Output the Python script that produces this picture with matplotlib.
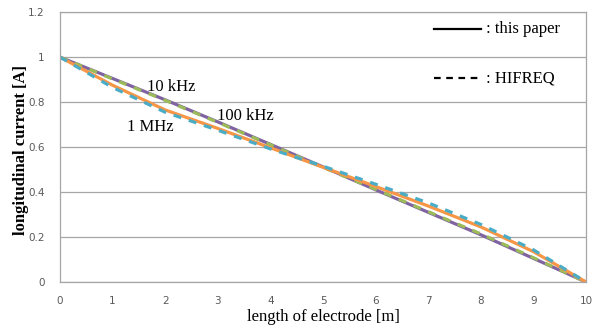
import matplotlib
matplotlib.use("Agg")
import matplotlib.pyplot as plt

x = [0, 1, 2, 3, 4, 5, 6, 7, 8, 9, 10]
# upper curve (10 kHz / 100 kHz)
i_10k_paper = [1.0, 0.905, 0.81, 0.712, 0.612, 0.512, 0.41, 0.31, 0.21, 0.105, 0.0]
i_10k_hifreq = [1.0, 0.903, 0.808, 0.71, 0.61, 0.51, 0.412, 0.313, 0.214, 0.108, 0.0]
# lower curve (1 MHz)
i_1m_paper = [1.0, 0.875, 0.765, 0.683, 0.597, 0.51, 0.425, 0.338, 0.245, 0.135, 0.0]
i_1m_hifreq = [1.0, 0.865, 0.755, 0.675, 0.592, 0.515, 0.435, 0.352, 0.256, 0.143, 0.0]

xticks = list(range(0, 11))
yticks = [0, 0.2, 0.4, 0.6, 0.8, 1.0, 1.2]
ytick_labels = ["0", "0.2", "0.4", "0.6", "0.8", "1", "1.2"]

serif = "Liberation Serif"
fig = plt.figure(figsize=(6.0, 3.28), dpi=100)
ax = fig.add_axes([0.1, 0.14, 0.877, 0.823])

ax.plot(x, i_10k_paper, color="#8064A2", lw=2.3, solid_capstyle="round")
ax.plot(x, i_10k_hifreq, color="#9BBB59", lw=2.3, ls=(0, (2.5, 2.5)))
ax.plot(x, i_1m_paper, color="#F79646", lw=2.3)
ax.plot(x, i_1m_hifreq, color="#4BACC6", lw=2.3, ls=(0, (2.5, 2.5)))

ax.set_xlim(0, 10)
ax.set_ylim(0, 1.2)
ax.set_xticks(xticks)
ax.set_yticks(yticks)
ax.set_yticklabels(ytick_labels)
ax.tick_params(axis="both", length=0, labelsize=7.5, labelcolor="#595959")
ax.tick_params(axis="x", pad=10)
ax.tick_params(axis="y", pad=11)
ax.grid(axis="y", color="#A6A6A6", lw=0.9)
ax.set_axisbelow(True)
for s in ax.spines.values():
    s.set_color("#A6A6A6")
    s.set_linewidth(0.9)

ax.set_xlabel("length of electrode [m]", family=serif, fontsize=12, labelpad=2)
ax.set_ylabel("longitudinal current [A]", family=serif, fontsize=12,
              fontweight="bold")
ax.yaxis.set_label_coords(-0.058, 0.49)

ax.text(2.11, 0.867, "10 kHz", family=serif, fontsize=12, ha="center", va="center")
ax.text(3.52, 0.738, "100 kHz", family=serif, fontsize=12, ha="center", va="center")
ax.text(1.71, 0.689, "1 MHz", family=serif, fontsize=12, ha="center", va="center")

# legend drawn as text and line samples
ax.plot([7.1, 8.0], [1.126, 1.126], color="black", lw=1.6)
ax.text(8.1, 1.126, ": this paper", family=serif, fontsize=12, va="center")
ax.plot([7.1, 8.0], [0.907, 0.907], color="black", lw=1.6, ls=(0, (3, 2.5)))
ax.text(8.1, 0.907, ": HIFREQ", family=serif, fontsize=12, va="center")

fig.savefig("out.png", dpi=100)
